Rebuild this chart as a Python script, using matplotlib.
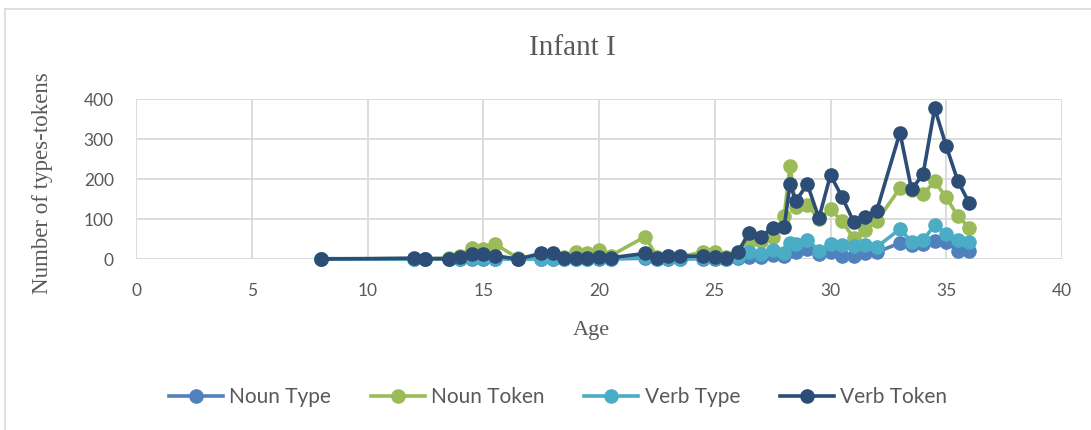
import matplotlib
matplotlib.use("Agg")
import matplotlib.pyplot as plt
from matplotlib.lines import Line2D

ages = [8, 12, 12.5, 13.5, 14, 14.5, 15, 15.5, 16.5, 17.5, 18, 18.5, 19, 19.5, 20, 20.5,
        22, 22.5, 23, 23.5, 24.5, 25, 25.5, 26, 26.5, 27, 27.5, 28, 28.25, 28.5, 29, 29.5,
        30, 30.5, 31, 31.5, 32, 33, 33.5, 34, 34.5, 35, 35.5, 36]

noun_type = [1, 0, 0, 0, 1, 1, 1, 1, 0, 1, 1, 0, 1, 1, 1, 0,
             2, 0, 1, 0, 1, 1, 0, 2, 4, 6, 10, 8, 22, 18, 24, 13,
             18, 8, 7, 14, 17, 40, 35, 38, 46, 42, 21, 21]
noun_token = [0, 1, 1, 2, 8, 28, 24, 38, 2, 8, 8, 6, 17, 15, 22, 8,
              56, 5, 8, 5, 18, 17, 5, 12, 42, 45, 55, 108, 233, 130, 135, 100,
              124, 95, 52, 72, 95, 177, 172, 162, 194, 154, 107, 78]
verb_type = [0, 0, 0, 0, 1, 2, 2, 1, 0, 1, 1, 0, 1, 1, 2, 1,
             4, 1, 2, 1, 2, 2, 1, 5, 18, 13, 22, 16, 39, 37, 48, 21,
             37, 35, 32, 34, 30, 75, 43, 47, 85, 63, 48, 42]
verb_token = [0, 2, 1, 1, 5, 12, 12, 8, 0, 14, 14, 3, 3, 3, 5, 3,
              14, 2, 8, 7, 7, 5, 2, 18, 66, 56, 78, 80, 187, 145, 187, 102,
              210, 155, 93, 105, 121, 316, 174, 212, 377, 282, 195, 139]

series_names = ["Noun Type", "Noun Token", "Verb Type", "Verb Token"]
series_values = [noun_type, noun_token, verb_type, verb_token]
colors = ["#4F81BD", "#9BBB59", "#4BACC6", "#2C4D75"]

x_ticks = [0, 5, 10, 15, 20, 25, 30, 35, 40]
y_ticks = [0, 100, 200, 300, 400]

W, H = 1091, 430
fig = plt.figure(figsize=(W / 100, H / 100), dpi=100)
ax = fig.add_axes([136 / W, 1 - 259 / H, (1062 - 136) / W, (259 - 99) / H])

for name, vals, c in zip(series_names, series_values, colors):
    ax.plot(ages, vals, color=c, lw=2.6, marker="o", ms=9.5, label=name,
            solid_capstyle="round", clip_on=False, zorder=3)

ax.set_xlim(0, 40)
ax.set_ylim(0, 400)
ax.set_xticks(x_ticks)
ax.set_yticks(y_ticks)
ax.grid(True, color="#D9D9D9", lw=1.3)
ax.set_axisbelow(True)
for s in ax.spines.values():
    s.set_visible(False)
ax.tick_params(length=0, labelsize=12.5, labelcolor="#595959")
ax.tick_params(axis="x", pad=17)
ax.tick_params(axis="y", pad=16)
for lab in ax.get_xticklabels() + ax.get_yticklabels():
    lab.set_fontfamily("Lato")

ax.set_xlabel("Age", family="Liberation Serif", fontsize=16, color="#595959")
ax.xaxis.set_label_coords((591 - 136) / (1062 - 136), -(330 - 259) / (259 - 99))
ax.xaxis.label.set_va("center")
ax.set_ylabel("Number of types-tokens", family="Liberation Serif", fontsize=16.5,
              color="#595959")
ax.yaxis.set_label_coords(-(136 - 43) / (1062 - 136), (259 - 183) / (259 - 99))
ax.yaxis.label.set_va("center")
fig.text(572 / W, 1 - 48 / H, "Infant I", family="Liberation Serif", fontsize=21,
         color="#595959", ha="center", va="center")

handles = [Line2D([], [], color=c, lw=2.6, marker="o", ms=9.5) for c in colors]
fig.legend(handles, series_names, loc="center", bbox_to_anchor=(558 / W, 1 - 397 / H),
           ncol=4, frameon=False, handlelength=2.6, columnspacing=1.9, handletextpad=0.3,
           prop={"family": "Lato", "size": 15}, labelcolor="#595959")

fig.add_artist(Line2D([5 / W, 5 / W], [0, 1 - 9 / H], transform=fig.transFigure,
                      color="#D9D9D9", lw=1.2))
fig.add_artist(Line2D([5 / W, 1], [1 - 9 / H, 1 - 9 / H], transform=fig.transFigure,
                      color="#D9D9D9", lw=1.2))

fig.savefig("out.png", dpi=100)
